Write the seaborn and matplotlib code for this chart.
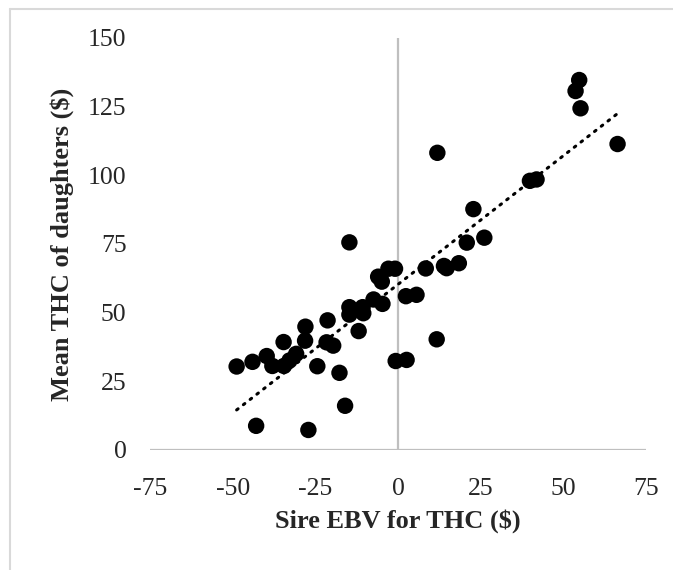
import numpy as np
import pandas as pd
import matplotlib
matplotlib.use("Agg")
import matplotlib.pyplot as plt
import seaborn as sns
from matplotlib.lines import Line2D

# Sire EBV for THC ($) vs mean THC of daughters ($)
sire_ebv = [-48.8, -44.0, -42.9, -39.7, -38.0, -34.6, -34.5, -32.8, -30.8, -28.0,
            -28.1, -27.1, -24.4, -21.3, -21.6, -19.6, -17.7, -16.0, -14.7, -14.7,
            -14.7, -10.7, -10.5, -11.9, -7.4, -4.7, -6.0, -4.9, -2.9, -0.9,
            -0.7, 2.6, 2.4, 5.6, 8.4, 11.7, 11.9, 13.9, 14.7, 18.4,
            20.8, 22.8, 26.1, 39.9, 41.9, 53.7, 54.8, 55.2, 66.4]
daughter_thc = [30.4, 32.1, 8.8, 34.2, 30.6, 39.3, 30.6, 32.6, 35.0, 44.9,
                39.8, 7.3, 30.5, 47.2, 39.2, 38.0, 28.1, 16.1, 75.6, 52.0,
                49.3, 52.0, 49.8, 43.3, 54.8, 53.2, 63.1, 61.3, 66.0, 66.0,
                32.4, 32.8, 56.0, 56.5, 66.1, 40.3, 108.2, 67.0, 66.2, 68.0,
                75.5, 87.7, 77.3, 98.0, 98.5, 130.7, 134.7, 124.4, 111.4]

x_ticks = [-75, -50, -25, 0, 25, 50, 75]
y_ticks = [0, 25, 50, 75, 100, 125, 150]

df = pd.DataFrame({"ebv": sire_ebv, "thc": daughter_thc})

sns.set_style("white")
plt.rcParams["font.family"] = ["Liberation Serif", "DejaVu Serif"]
plt.rcParams["axes.unicode_minus"] = False

W, H = 673, 570
fig = plt.figure(figsize=(W / 100, H / 100), dpi=100)
ax = fig.add_axes([150 / W, (H - 450) / H, 496 / W, 412 / H])

# gray axis lines crossing at zero (Excel style)
ax.axhline(0, color="#BFBFBF", lw=1.6, zorder=1)
ax.axvline(0, color="#BFBFBF", lw=1.6, zorder=1)

sns.regplot(data=df, x="ebv", y="thc", scatter=False, ci=None, ax=ax,
            line_kws=dict(color="black", lw=2.2, ls=(0, (0.6, 2.2)),
                          dash_capstyle="round", zorder=3))
sns.scatterplot(data=df, x="ebv", y="thc", ax=ax, color="black", s=140,
                edgecolor="none", zorder=4)

ax.set_xlim(-75, 75)
ax.set_ylim(0, 150)
ax.set_xticks(x_ticks)
ax.set_yticks(y_ticks)
ax.tick_params(axis="both", length=0, labelsize=18.5)
ax.tick_params(axis="x", pad=20)
ax.tick_params(axis="y", pad=17)
for s in ax.spines.values():
    s.set_visible(False)

ax.set_xlabel("Sire EBV for THC ($)", fontsize=19, fontweight="bold", labelpad=7)
ax.set_ylabel("Mean THC of daughters ($)", fontsize=19, fontweight="bold", labelpad=10)

# light frame around the chart area (top and left edges visible)
fig.add_artist(Line2D([10 / W, 1], [1 - 9 / H, 1 - 9 / H], color="#D9D9D9", lw=1.5,
                      transform=fig.transFigure))
fig.add_artist(Line2D([10 / W, 10 / W], [0, 1 - 9 / H], color="#D9D9D9", lw=1.5,
                      transform=fig.transFigure))

fig.savefig("out.png", dpi=100)
